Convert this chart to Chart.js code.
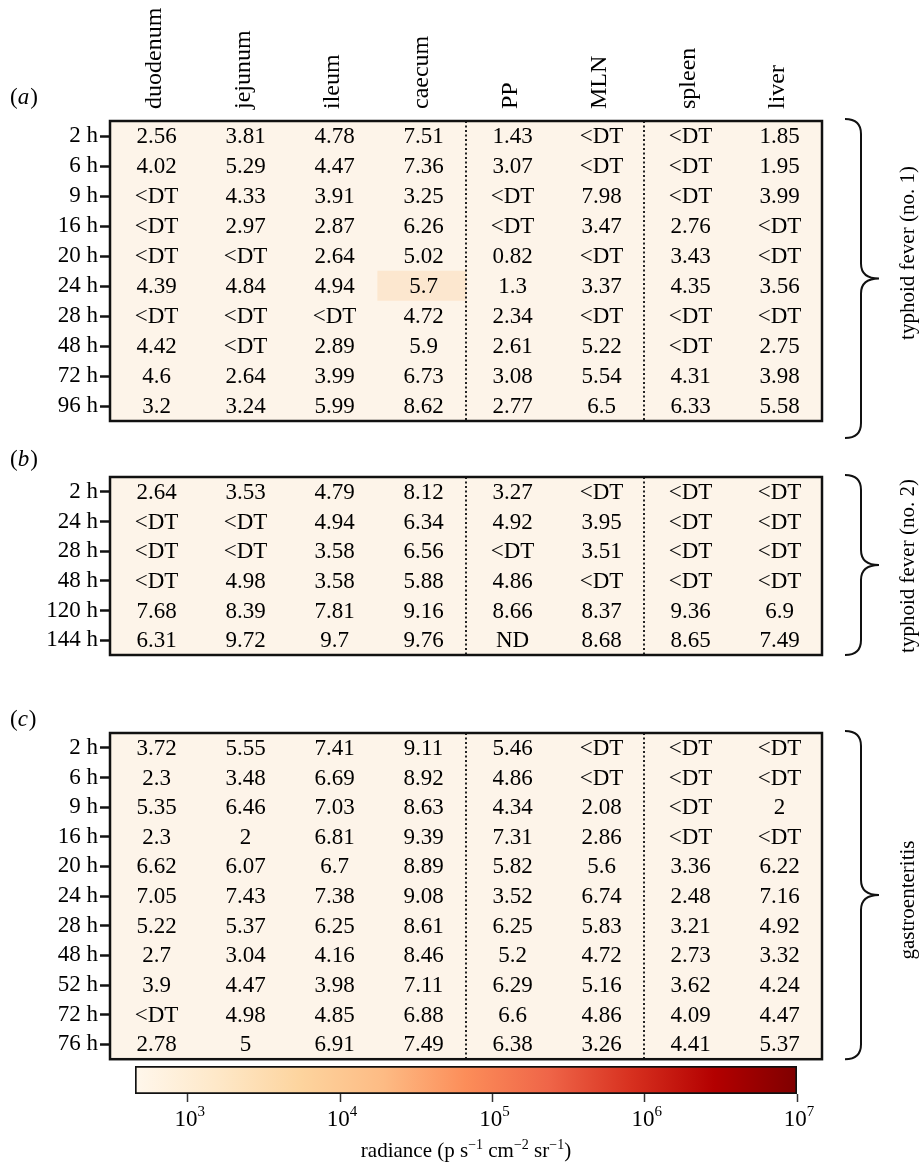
<html>
<script src="https://cdn.jsdelivr.net/npm/chart.js@4.4.1/dist/chart.umd.min.js"></script>

<style>
  body { margin: 0; background: #fff; }
  #wrap { position: relative; width: 924px; height: 1166px; }
  canvas { position: absolute; left: 0; }
</style>

<body>
  <div id="wrap">
    <canvas id="panelA" width="924" height="440" style="top:0px"></canvas>
    <canvas id="panelB" width="924" height="240" style="top:440px"></canvas>
    <canvas id="panelC" width="924" height="395" style="top:680px"></canvas>
    <canvas id="colorbar" width="924" height="116" style="top:1050px"></canvas>
  </div>
</body>

<script>
  var FONT = '"Liberation Serif", "DejaVu Serif", serif';

  // columns (organs) and the two dotted group dividers
  var organs = ['duodenum', 'jejunum', 'ileum', 'caecum', 'PP', 'MLN', 'spleen', 'liver'];
  var dividers = ['PP', 'spleen'];

  // (a) typhoid fever no. 1
  var timesA = ['2 h', '6 h', '9 h', '16 h', '20 h', '24 h', '28 h', '48 h', '72 h', '96 h'];
  var valuesA = [
    ['2.56', '3.81', '4.78', '7.51', '1.43', '<DT', '<DT', '1.85'],
    ['4.02', '5.29', '4.47', '7.36', '3.07', '<DT', '<DT', '1.95'],
    ['<DT', '4.33', '3.91', '3.25', '<DT', '7.98', '<DT', '3.99'],
    ['<DT', '2.97', '2.87', '6.26', '<DT', '3.47', '2.76', '<DT'],
    ['<DT', '<DT', '2.64', '5.02', '0.82', '<DT', '3.43', '<DT'],
    ['4.39', '4.84', '4.94', '5.7', '1.3', '3.37', '4.35', '3.56'],
    ['<DT', '<DT', '<DT', '4.72', '2.34', '<DT', '<DT', '<DT'],
    ['4.42', '<DT', '2.89', '5.9', '2.61', '5.22', '<DT', '2.75'],
    ['4.6', '2.64', '3.99', '6.73', '3.08', '5.54', '4.31', '3.98'],
    ['3.2', '3.24', '5.99', '8.62', '2.77', '6.5', '6.33', '5.58']
  ];

  // (b) typhoid fever no. 2
  var timesB = ['2 h', '24 h', '28 h', '48 h', '120 h', '144 h'];
  var valuesB = [
    ['2.64', '3.53', '4.79', '8.12', '3.27', '<DT', '<DT', '<DT'],
    ['<DT', '<DT', '4.94', '6.34', '4.92', '3.95', '<DT', '<DT'],
    ['<DT', '<DT', '3.58', '6.56', '<DT', '3.51', '<DT', '<DT'],
    ['<DT', '4.98', '3.58', '5.88', '4.86', '<DT', '<DT', '<DT'],
    ['7.68', '8.39', '7.81', '9.16', '8.66', '8.37', '9.36', '6.9'],
    ['6.31', '9.72', '9.7', '9.76', 'ND', '8.68', '8.65', '7.49']
  ];

  // (c) gastroenteritis
  var timesC = ['2 h', '6 h', '9 h', '16 h', '20 h', '24 h', '28 h', '48 h', '52 h', '72 h', '76 h'];
  var valuesC = [
    ['3.72', '5.55', '7.41', '9.11', '5.46', '<DT', '<DT', '<DT'],
    ['2.3', '3.48', '6.69', '8.92', '4.86', '<DT', '<DT', '<DT'],
    ['5.35', '6.46', '7.03', '8.63', '4.34', '2.08', '<DT', '2'],
    ['2.3', '2', '6.81', '9.39', '7.31', '2.86', '<DT', '<DT'],
    ['6.62', '6.07', '6.7', '8.89', '5.82', '5.6', '3.36', '6.22'],
    ['7.05', '7.43', '7.38', '9.08', '3.52', '6.74', '2.48', '7.16'],
    ['5.22', '5.37', '6.25', '8.61', '6.25', '5.83', '3.21', '4.92'],
    ['2.7', '3.04', '4.16', '8.46', '5.2', '4.72', '2.73', '3.32'],
    ['3.9', '4.47', '3.98', '7.11', '6.29', '5.16', '3.62', '4.24'],
    ['<DT', '4.98', '4.85', '6.88', '6.6', '4.86', '4.09', '4.47'],
    ['2.78', '5', '6.91', '7.49', '6.38', '3.26', '4.41', '5.37']
  ];

  // the one cell that is shaded darker than the rest
  var highlightCell = { panel: 'a', time: '24 h', organ: 'caecum' };

  // colour bar (log radiance)
  var cbMin = 450, cbMax = 1e7;
  var cbTicks = [1e3, 1e4, 1e5, 1e6, 1e7];
  var cbTickExp = ['3', '4', '5', '6', '7'];
  var cbColors = ['#fff7ec', '#fee8c8', '#fdd49e', '#fdbb84', '#fc8d59', '#ef6548', '#d7301f', '#b30000', '#7f0000'];

  var cellColor = '#fdf4e9';
  var highlightColor = '#fce7cf';

  function drawTag(ctx, letter, x, y) {
    ctx.font = '23px ' + FONT;
    ctx.textAlign = 'left';
    ctx.textBaseline = 'middle';
    ctx.fillText('(', x, y);
    x += ctx.measureText('(').width;
    ctx.font = 'italic 23px ' + FONT;
    ctx.fillText(letter, x, y);
    x += ctx.measureText(letter).width + 1;
    ctx.font = '23px ' + FONT;
    ctx.fillText(')', x, y);
  }

  function drawBrace(ctx, top, bottom, mid) {
    var x0 = 845, x1 = 861, x2 = 879, r = 15;
    ctx.beginPath();
    ctx.moveTo(x0, top);
    ctx.quadraticCurveTo(x1, top, x1, top + r);
    ctx.lineTo(x1, mid - r);
    ctx.quadraticCurveTo(x1, mid, x2, mid);
    ctx.quadraticCurveTo(x1, mid, x1, mid + r);
    ctx.lineTo(x1, bottom - r);
    ctx.quadraticCurveTo(x1, bottom, x0, bottom);
    ctx.lineWidth = 2;
    ctx.strokeStyle = '#111';
    ctx.stroke();
  }

  var panelDeco = {
    id: 'panelDeco',
    afterDatasetsDraw: function (chart, args, o) {
      var ctx = chart.ctx, a = chart.chartArea, xs = chart.scales.x;
      ctx.save();

      // cell values
      ctx.font = '23px ' + FONT;
      ctx.fillStyle = '#000';
      ctx.textAlign = 'center';
      ctx.textBaseline = 'middle';
      chart.data.datasets.forEach(function (ds, i) {
        chart.getDatasetMeta(i).data.forEach(function (el, j) {
          ctx.fillText(ds.cellText[j], (el.x + el.base) / 2 + 2, el.y + 1);
        });
      });

      // dotted dividers
      ctx.setLineDash([2, 2.5]);
      ctx.lineWidth = 2;
      ctx.strokeStyle = '#222';
      dividers.forEach(function (name) {
        var px = Math.round(xs.getPixelForValue(organs.indexOf(name)));
        ctx.beginPath();
        ctx.moveTo(px, a.top);
        ctx.lineTo(px, a.bottom);
        ctx.stroke();
      });
      ctx.setLineDash([]);

      // frame
      ctx.lineWidth = 2.5;
      ctx.strokeStyle = '#111';
      ctx.strokeRect(a.left, a.top, a.right - a.left, a.bottom - a.top);

      // panel letter
      ctx.fillStyle = '#000';
      drawTag(ctx, o.tag, 10, o.tagY);

      // brace + group label
      var top = a.top - 2, bottom = a.bottom + (o.braceExtra || 0);
      drawBrace(ctx, top, bottom, (top + bottom) / 2);
      ctx.translate(908, o.labelY);
      ctx.rotate(-Math.PI / 2);
      ctx.font = '21px ' + FONT;
      ctx.fillStyle = '#000';
      ctx.textAlign = 'center';
      ctx.textBaseline = 'middle';
      ctx.fillText(o.label, 0, 0);
      ctx.restore();
    }
  };

  function makePanel(id, panel, times, values, showHeader, pad, deco) {
    var datasets = organs.map(function (organ, c) {
      return {
        label: organ,
        data: times.map(function () { return [c, c + 1]; }),
        cellText: values.map(function (row) { return row[c]; }),
        backgroundColor: times.map(function (t) {
          var hl = highlightCell.panel == panel && highlightCell.time == t && highlightCell.organ == organ;
          return hl ? highlightColor : cellColor;
        }),
        borderWidth: 0,
        barPercentage: 1,
        categoryPercentage: 1,
        grouped: false
      };
    });

    return new Chart(document.getElementById(id), {
      type: 'bar',
      data: { labels: times, datasets: datasets },
      options: {
        indexAxis: 'y',
        responsive: false,
        animation: false,
        events: [],
        layout: { padding: pad },
        plugins: {
          legend: { display: false },
          tooltip: { enabled: false },
          panelDeco: deco
        },
        scales: {
          x: { type: 'linear', min: 0, max: organs.length, display: false },
          xTop: {
            type: 'category',
            labels: organs,
            position: 'top',
            offset: true,
            display: showHeader,
            grid: { display: false },
            border: { display: false },
            ticks: { minRotation: 90, maxRotation: 90, padding: 4, labelOffset: 29, color: '#000', font: { family: FONT, size: 24 } },
            afterFit: function (s) { s.height = showHeader ? 121 : 0; }
          },
          y: {
            type: 'category',
            offset: true,
            grid: { display: true, drawOnChartArea: false, offset: false, tickLength: 10, tickWidth: 2.5, color: '#111' },
            border: { display: false },
            ticks: { autoSkip: false, padding: 2, color: '#000', font: { family: FONT, size: 23 } },
            afterFit: function (s) { s.width = 110; }
          }
        }
      },
      plugins: [panelDeco]
    });
  }

  makePanel('panelA', 'a', timesA, valuesA, true,
    { left: 0, right: 102, top: 0, bottom: 19 },
    { tag: 'a', tagY: 98, label: 'typhoid fever (no. 1)', labelY: 253, braceExtra: 17 });

  makePanel('panelB', 'b', timesB, valuesB, false,
    { left: 0, right: 102, top: 37, bottom: 25 },
    { tag: 'b', tagY: 20, label: 'typhoid fever (no. 2)', labelY: 126, braceExtra: 0 });

  makePanel('panelC', 'c', timesC, valuesC, false,
    { left: 0, right: 102, top: 53, bottom: 12 },
    { tag: 'c', tagY: 40, label: 'gastroenteritis', labelY: 220, braceExtra: 0 });

  // colour bar
  function drawRich(ctx, parts, cx, y, size, supSize, rise) {
    var w = 0;
    parts.forEach(function (p) {
      ctx.font = (p[1] ? supSize : size) + 'px ' + FONT;
      w += ctx.measureText(p[0]).width;
    });
    var x = cx - w / 2;
    parts.forEach(function (p) {
      ctx.font = (p[1] ? supSize : size) + 'px ' + FONT;
      ctx.fillText(p[0], x, p[1] ? y - rise : y);
      x += ctx.measureText(p[0]).width;
    });
  }

  var cbLabels = {
    id: 'cbLabels',
    afterDraw: function (chart) {
      var ctx = chart.ctx, xs = chart.scales.x;
      ctx.save();
      ctx.fillStyle = '#000';
      ctx.textAlign = 'left';
      ctx.textBaseline = 'alphabetic';
      cbTicks.forEach(function (v, i) {
        drawRich(ctx, [['10', false], [cbTickExp[i], true]], xs.getPixelForValue(v) + 2, 76, 23, 15, 10);
      });
      drawRich(ctx, [['radiance (p s', false], ['\u22121', true], [' cm', false], ['\u22122', true],
        [' sr', false], ['\u22121', true], [')', false]], (chart.chartArea.left + chart.chartArea.right) / 2, 107, 21, 14, 8);
      ctx.restore();
    }
  };

  new Chart(document.getElementById('colorbar'), {
    type: 'bar',
    data: {
      labels: ['radiance'],
      datasets: [{
        data: [[cbMin, cbMax]],
        backgroundColor: function (c) {
          var area = c.chart.chartArea;
          if (!area) return cbColors[0];
          var g = c.chart.ctx.createLinearGradient(area.left, 0, area.right, 0);
          cbColors.forEach(function (col, i) { g.addColorStop(i / (cbColors.length - 1), col); });
          return g;
        },
        borderColor: '#111',
        borderWidth: 2,
        borderSkipped: false,
        barPercentage: 1,
        categoryPercentage: 1
      }]
    },
    options: {
      indexAxis: 'y',
      responsive: false,
      animation: false,
      events: [],
      layout: { padding: { left: 135, right: 127, top: 16, bottom: 0 } },
      plugins: { legend: { display: false }, tooltip: { enabled: false } },
      scales: {
        x: {
          type: 'logarithmic',
          min: cbMin,
          max: cbMax,
          grid: { display: true, drawOnChartArea: false, tickLength: 8, tickWidth: 1.5, color: '#333' },
          border: { display: false },
          ticks: { display: false, autoSkip: false },
          afterBuildTicks: function (s) { s.ticks = cbTicks.map(function (v) { return { value: v }; }); },
          afterFit: function (s) { s.height = 72; }
        },
        y: { display: false }
      }
    },
    plugins: [cbLabels]
  });
</script>

</html>
